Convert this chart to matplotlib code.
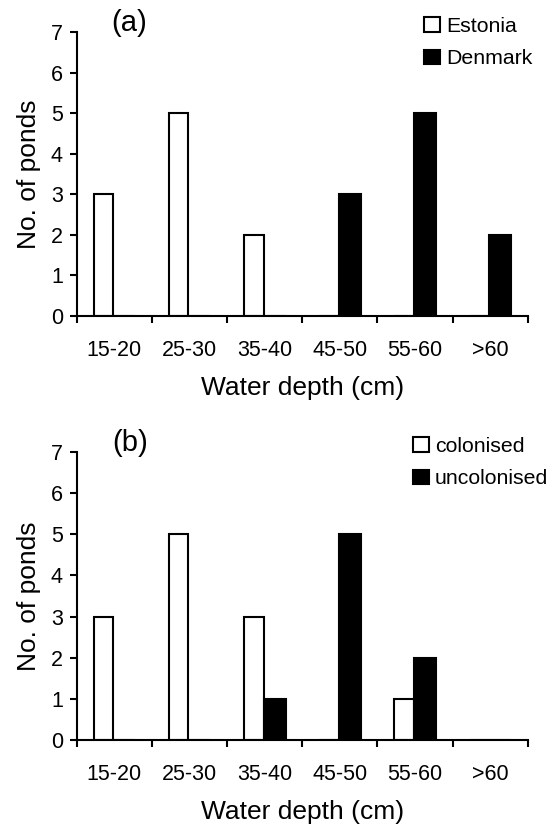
import numpy as np
import matplotlib
matplotlib.use("Agg")
import matplotlib.pyplot as plt
from matplotlib.patches import Patch

plt.rcParams['font.family'] = ['Liberation Sans', 'DejaVu Sans']

depths = ["15-20", "25-30", "35-40", "45-50", "55-60", ">60"]

estonia = [3, 5, 2, 0, 0, 0]
denmark = [0, 0, 0, 3, 5, 2]

colonised = [3, 5, 3, 0, 1, 0]
uncolonised = [0, 0, 1, 5, 2, 0]


def draw_panel(ax, white_vals, black_vals):
    x = np.arange(len(depths))
    ax.bar(x - 0.143, white_vals, width=0.26, color="white", edgecolor="black", linewidth=1.5)
    ax.bar(x + 0.133, black_vals, width=0.29, color="black", edgecolor="black", linewidth=1.5)
    ax.set_xlim(-0.5, len(depths) - 0.5)
    ax.set_ylim(0, 7)
    ax.set_yticks(range(8))
    ax.spines["top"].set_visible(False)
    ax.spines["right"].set_visible(False)
    ax.spines["left"].set_linewidth(1.5)
    ax.spines["bottom"].set_linewidth(1.5)
    # ticks at the category boundaries, labels at the centres
    ax.set_xticks(np.arange(len(depths) + 1) - 0.5)
    ax.set_xticklabels([])
    ax.set_xticks(x, minor=True)
    ax.set_xticklabels(depths, minor=True, fontsize=15.5)
    ax.tick_params(axis="x", which="major", direction="out", length=5, width=1.5)
    ax.tick_params(axis="x", which="minor", length=0, pad=17)
    ax.tick_params(axis="y", direction="out", length=5, width=1.5, labelsize=15.5, pad=5)
    ax.set_xlabel("Water depth (cm)", fontsize=19, labelpad=11)
    ax.set_ylabel("No. of ponds", fontsize=19, labelpad=7)


fig = plt.figure(figsize=(5.52, 8.26), dpi=100)

ax1 = fig.add_axes([0.139, 0.6174, 0.817, 0.3438])
draw_panel(ax1, estonia, denmark)
ax2 = fig.add_axes([0.139, 0.1041, 0.817, 0.3487])
draw_panel(ax2, colonised, uncolonised)

fig.text(129 / 552, 1 - 23 / 826, "(a)", fontsize=21, ha="center", va="center")
fig.text(130 / 552, 1 - 443 / 826, "(b)", fontsize=21, ha="center", va="center")

leg_kw = dict(loc="upper left", frameon=False, fontsize=15.3, handlelength=0.75,
              handleheight=0.66, handletextpad=0.28, labelspacing=0.62,
              borderpad=0, borderaxespad=0)
fig.legend([Patch(facecolor="white", edgecolor="black", linewidth=1.5),
            Patch(facecolor="black", edgecolor="black", linewidth=1.5)],
           ["Estonia", "Denmark"], bbox_to_anchor=(424 / 552, 1 - 17 / 826), **leg_kw)
fig.legend([Patch(facecolor="white", edgecolor="black", linewidth=1.5),
            Patch(facecolor="black", edgecolor="black", linewidth=1.5)],
           ["colonised", "uncolonised"], bbox_to_anchor=(413 / 552, 1 - 437 / 826), **leg_kw)

fig.savefig("out.png", dpi=100)
